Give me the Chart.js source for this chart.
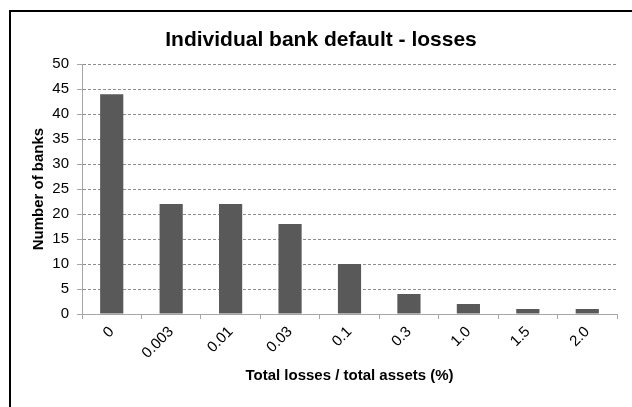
<!DOCTYPE html>
<html>
<head>
<meta charset="utf-8">
<script src="https://cdn.jsdelivr.net/npm/chart.js@4.4.1/dist/chart.umd.min.js"></script>
<style>
  html, body { margin: 0; padding: 0; background: #fff; }
</style>
</head>
<body>
<canvas id="chartCanvas" width="632" height="407"></canvas>
<script>
// --- data ---
const lossBuckets = ["0", "0.003", "0.01", "0.03", "0.1", "0.3", "1.0", "1.5", "2.0"];
const bankCounts = [44, 22, 22, 18, 10, 4, 2, 1, 1];
const yMin = 0;
const yMax = 50;
const yStep = 5;

const FONT = "'Liberation Sans', Arial, sans-serif";

// outer frame (only top + left edges show, the rest is cropped off)
const framePlugin = {
  id: "frame",
  beforeDraw(chart) {
    const ctx = chart.ctx;
    ctx.save();
    ctx.fillStyle = "#fff";
    ctx.fillRect(0, 0, chart.width, chart.height);
    ctx.strokeStyle = "#000";
    ctx.lineWidth = 2;
    ctx.beginPath();
    ctx.moveTo(10, chart.height + 5);
    ctx.lineTo(10, 11);
    ctx.lineTo(chart.width + 5, 11);
    ctx.stroke();
    ctx.restore();
  }
};

const canvas = document.getElementById("chartCanvas");

new Chart(canvas, {
  type: "bar",
  data: {
    labels: lossBuckets,
    datasets: [{
      label: "Number of banks",
      data: bankCounts,
      backgroundColor: "#595959",
      barPercentage: 0.39,
      categoryPercentage: 1.0
    }]
  },
  options: {
    responsive: false,
    animation: false,
    devicePixelRatio: 1,
    layout: { padding: { left: 25, right: 15, top: 0, bottom: 0 } },
    plugins: {
      legend: { display: false },
      tooltip: { enabled: false },
      title: {
        display: true,
        text: "Individual bank default - losses",
        color: "#000",
        font: { family: FONT, size: 21, weight: "bold" },
        padding: { top: 28, bottom: 11 }
      }
    },
    scales: {
      x: {
        afterFit: s => { s.height = 93; },
        grid: {
          offset: true,
          drawOnChartArea: false,
          drawTicks: true,
          tickLength: 5,
          color: "#a6a6a6"
        },
        border: { color: "#a6a6a6", width: 1 },
        ticks: {
          color: "#000",
          font: { family: FONT, size: 15 },
          minRotation: 45,
          maxRotation: 45,
          padding: 4
        },
        title: {
          display: true,
          text: "Total losses / total assets (%)",
          color: "#000",
          font: { family: FONT, size: 15, weight: "bold" },
          padding: { top: 0, bottom: 22 }
        }
      },
      y: {
        min: yMin,
        max: yMax,
        afterFit: s => { s.width = 57; },
        grid: {
          color: "#8c8c8c",
          tickColor: "#a6a6a6",
          tickLength: 5,
          tickBorderDash: []
        },
        border: { color: "#a6a6a6", width: 1, dash: [3, 2] },
        ticks: {
          stepSize: yStep,
          color: "#000",
          font: { family: FONT, size: 15 },
          padding: 8
        },
        title: {
          display: true,
          text: "Number of banks",
          color: "#000",
          font: { family: FONT, size: 15, weight: "bold" },
          padding: { top: 5, bottom: 0 }
        }
      }
    }
  },
  plugins: [framePlugin]
});
</script>
</body>
</html>
